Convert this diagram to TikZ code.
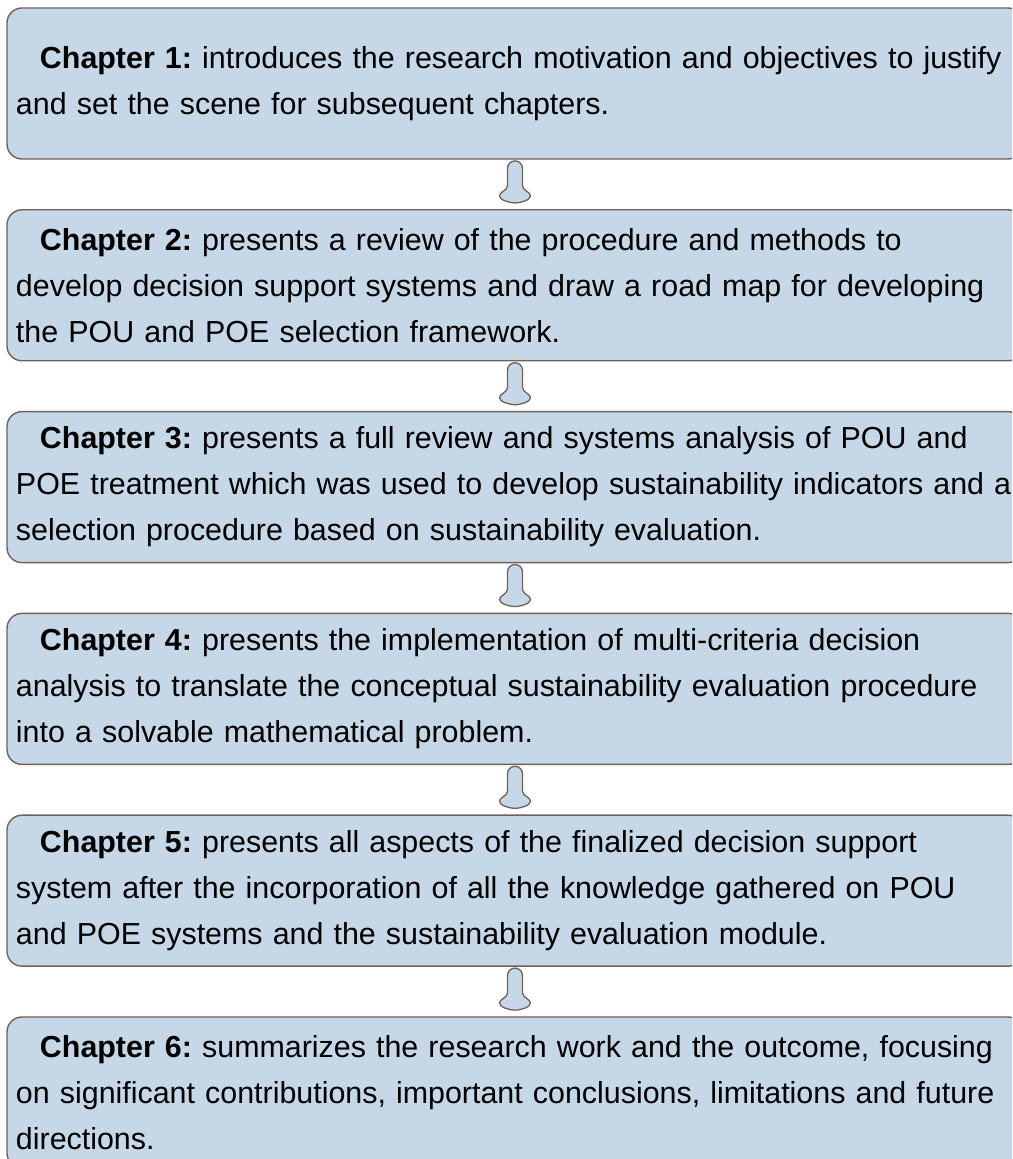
\documentclass[tikz,border=0pt]{standalone}
\usepackage{fontspec}
\setmainfont{Liberation Sans}
\usepackage{xcolor}
\usepackage{tikz}
\usetikzlibrary{calc}

\definecolor{boxfill}{RGB}{198,216,232}
\definecolor{boxline}{RGB}{112,96,90}

% downward bell arrow between two chapter boxes
\newcommand{\chapterarrow}[2]{%
  \draw[flowarrow, shift={($(#1.south)!0.5!(#2.north)$)}]
    (-7.5,-1.5) -- (-7.5,16) arc[start angle=180,end angle=0,radius=7.5]
    -- (7.5,-1.5) .. controls (8,-6.5) and (15.5,-7.5) .. (15.5,-11.5)
    .. controls (15.5,-15.5) and (6,-18.5) .. (0,-18.5)
    .. controls (-6,-18.5) and (-15.5,-15.5) .. (-15.5,-11.5)
    .. controls (-15.5,-7.5) and (-8,-6.5) .. (-7.5,-1.5) -- cycle;}

\begin{document}
\frenchspacing
\begin{tikzpicture}[x=1pt,y=1pt,
    chapterbox/.style={draw=boxline, line width=1.4pt, fill=boxfill,
      rounded corners=15pt, minimum height=151pt, minimum width=1016pt,
      text width=998pt, inner xsep=9pt, align=left,
      font=\fontsize{30.4}{46}\selectfont},
    flowarrow/.style={draw=boxline, line width=1.3pt, fill=boxfill}]
    \fill[white] (0,0) rectangle (1012,1159);
    \useasboundingbox (0,0) rectangle (1012,1159);
    \clip (0,0) rectangle (1012,1159);

    \node[chapterbox] (ch1) at (515,1075.5) {\hspace*{24pt}\textbf{Chapter 1:} introduces the research motivation and objectives to justify\\and set the scene for subsequent chapters.};
    \node[chapterbox] (ch2) at (515,873.7) {\hspace*{24pt}\textbf{Chapter 2:} presents a review of the procedure and methods to\\develop decision support systems and draw a road map for developing\\the POU and POE selection framework.};
    \node[chapterbox] (ch3) at (515,671.9) {\hspace*{24pt}\textbf{Chapter 3:} presents a full review and systems analysis of POU and\\POE treatment which was used to develop sustainability indicators and a\\selection procedure based on sustainability evaluation.};
    \node[chapterbox] (ch4) at (515,470.1) {\hspace*{24pt}\textbf{Chapter 4:} presents the implementation of multi-criteria decision\\analysis to translate the conceptual sustainability evaluation procedure\\into a solvable mathematical problem.};
    \node[chapterbox] (ch5) at (515,268.3) {\hspace*{24pt}\textbf{Chapter 5:} presents all aspects of the finalized decision support\\system after the incorporation of all the knowledge gathered on POU\\and POE systems and the sustainability evaluation module.};
    \node[chapterbox] (ch6) at (515,66.5) {\hspace*{24pt}\textbf{Chapter 6:} summarizes the research work and the outcome, focusing\\on significant contributions, important conclusions, limitations and future\\directions.};

    \chapterarrow{ch1}{ch2}
    \chapterarrow{ch2}{ch3}
    \chapterarrow{ch3}{ch4}
    \chapterarrow{ch4}{ch5}
    \chapterarrow{ch5}{ch6}
\end{tikzpicture}
\end{document}
